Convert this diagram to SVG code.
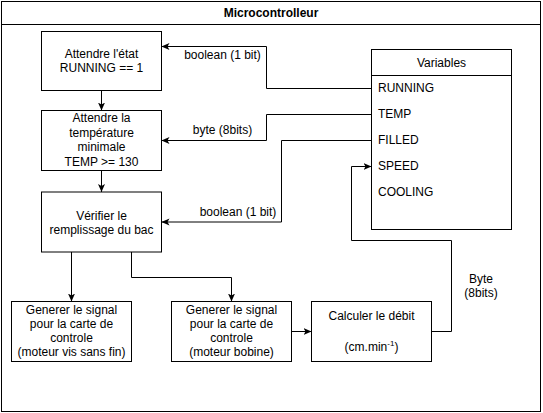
<svg xmlns="http://www.w3.org/2000/svg" width="543" height="413" viewBox="0 0 543 413">
<style>
.box{fill:#fff;stroke:#000;stroke-width:1}
.t{font-family:"Liberation Sans",Arial,sans-serif;font-size:12px;fill:#000}
.c{text-anchor:middle}
.b{font-weight:bold}
.ln{fill:none;stroke:#000;stroke-width:1}
</style>
<defs>
<marker id="arr" viewBox="0 0 8 8" refX="8" refY="4" markerWidth="8" markerHeight="8" markerUnits="userSpaceOnUse" orient="auto">
<path d="M0,0.5 L8,4 L0,7.5 L2,4 Z" fill="#000"/>
</marker>
</defs>
<rect width="543" height="413" fill="#fff"/>
<g id="container">
<rect class="box" x="1.5" y="1.5" width="539" height="410"/>
<line class="ln" x1="1.5" y1="24.5" x2="540.5" y2="24.5"/>
<text class="t c b" x="271" y="17">Microcontrolleur</text>
</g>
<g id="n1">
<rect class="box" x="41.5" y="31.5" width="120" height="59"/>
<text class="t c" x="101.5" y="57.5">Attendre l'état</text>
<text class="t c" x="101.5" y="72">RUNNING == 1</text>
</g>
<g id="n2">
<rect class="box" x="41.5" y="110.5" width="120" height="60"/>
<text class="t c" x="101.5" y="121.5">Attendre la</text>
<text class="t c" x="101.5" y="136.5">température</text>
<text class="t c" x="101.5" y="151">minimale</text>
<text class="t c" x="101.5" y="165.5">TEMP &gt;= 130</text>
</g>
<g id="n3">
<rect class="box" x="41.5" y="192" width="120" height="60"/>
<text class="t c" x="101.5" y="219.5">Vérifier le</text>
<text class="t c" x="101.5" y="233.5">remplissage du bac</text>
</g>
<g id="n4">
<rect class="box" x="11.5" y="301.5" width="120" height="60"/>
<text class="t c" x="71.5" y="313.5">Generer le signal</text>
<text class="t c" x="71.5" y="327.5">pour la carte de</text>
<text class="t c" x="71.5" y="342">controle</text>
<text class="t c" x="71.5" y="356">(moteur vis sans fin)</text>
</g>
<g id="n5">
<rect class="box" x="171.5" y="301.5" width="120" height="60"/>
<text class="t c" x="231.5" y="313.5">Generer le signal</text>
<text class="t c" x="231.5" y="327.5">pour la carte de</text>
<text class="t c" x="231.5" y="342">controle</text>
<text class="t c" x="231.5" y="356">(moteur bobine)</text>
</g>
<g id="n6">
<rect class="box" x="311.5" y="301.5" width="120" height="60"/>
<text class="t c" x="371.5" y="319.5">Calculer le débit</text>
<text class="t c" x="371.5" y="350.5">(cm.min<tspan font-size="8" dy="-5">-1</tspan><tspan dy="5">)</tspan></text>
</g>
<g id="variables">
<rect class="box" x="371.5" y="49.5" width="140" height="180"/>
<line class="ln" x1="371.5" y1="75.5" x2="511.5" y2="75.5"/>
<text class="t c" x="441.5" y="67">Variables</text>
<text class="t" x="378" y="92">RUNNING</text>
<text class="t" x="378" y="118">TEMP</text>
<text class="t" x="378" y="144">FILLED</text>
<text class="t" x="378" y="170">SPEED</text>
<text class="t" x="378" y="196">COOLING</text>
</g>
<g id="connectors">
<path class="ln" marker-end="url(#arr)" d="M371.5,88.5 L266.5,88.5 L266.5,46.5 L161.5,46.5"/>
<path class="ln" marker-end="url(#arr)" d="M371.5,114.5 L266.5,114.5 L266.5,140.5 L161.5,140.5"/>
<path class="ln" marker-end="url(#arr)" d="M371.5,140.5 L281.5,140.5 L281.5,222 L161.5,222"/>
<path class="ln" marker-end="url(#arr)" d="M431.5,331.5 L451.5,331.5 L451.5,240.5 L351.5,240.5 L351.5,166.5 L371.5,166.5"/>
<path class="ln" marker-end="url(#arr)" d="M101.5,90.5 L101.5,110.5"/>
<path class="ln" marker-end="url(#arr)" d="M101.5,170.5 L101.5,192"/>
<path class="ln" marker-end="url(#arr)" d="M71.5,252 L71.5,301.5"/>
<path class="ln" marker-end="url(#arr)" d="M131.5,252 L131.5,277.5 L231.5,277.5 L231.5,301.5"/>
<path class="ln" marker-end="url(#arr)" d="M291.5,331.5 L311.5,331.5"/>
<text class="t c" x="222.5" y="59">boolean (1 bit)</text>
<text class="t c" x="222.5" y="133.5">byte (8bits)</text>
<text class="t c" x="238" y="216">boolean (1 bit)</text>
<text class="t c" x="481" y="283">Byte</text>
<text class="t c" x="481" y="297">(8bits)</text>
</g>
</svg>
